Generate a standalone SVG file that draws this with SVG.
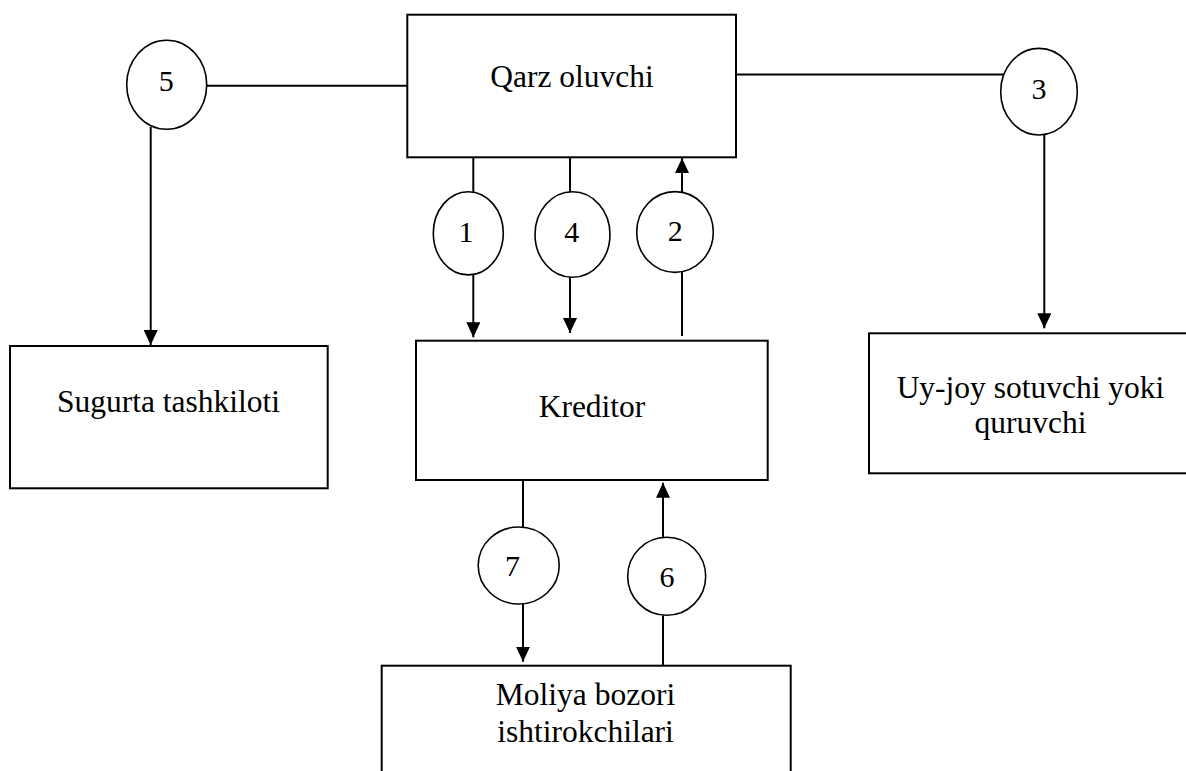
<svg xmlns="http://www.w3.org/2000/svg" width="1186" height="771" viewBox="0 0 1186 771">
<style>
  .box { fill: #ffffff; stroke: #000000; stroke-width: 2; }
  .circ { fill: #ffffff; stroke: #000000; stroke-width: 1.6; }
  .lbl { font-family: "Liberation Serif", "Times New Roman", serif; font-size: 31.5px; fill: #000000; text-anchor: middle; }
  .num { font-family: "Liberation Serif", "Times New Roman", serif; font-size: 30px; fill: #000000; text-anchor: middle; }
  .con { fill: none; stroke: #000000; stroke-width: 2; }
  .arr { marker-end: url(#ah); }
</style>
<defs>
  <marker id="ah" viewBox="0 0 15 14" refX="15" refY="7" markerWidth="15" markerHeight="14" markerUnits="userSpaceOnUse" orient="auto">
    <path d="M0,0 L15,7 L0,14 z" fill="#000000"/>
  </marker>
</defs>
<rect width="1186" height="771" fill="#ffffff"/>

<g id="connectors">
  <path class="con" d="M206.7,85.7 H407.3"/>
  <path class="con arr" d="M150.7,127 V345"/>
  <path class="con" d="M736,74.5 H1004"/>
  <path class="con arr" d="M1044.3,134.5 V328.3"/>
  <path class="con" d="M473.3,157.3 V192"/>
  <path class="con arr" d="M473.3,274.5 V337.3"/>
  <path class="con" d="M570,157.3 V192"/>
  <path class="con arr" d="M570,277 V333"/>
  <path class="con" d="M682,336 V272"/>
  <path class="con arr" d="M682,192 V158"/>
  <path class="con" d="M523,480 V527"/>
  <path class="con arr" d="M523,603.5 V661.7"/>
  <path class="con" d="M663,665.7 V615.5"/>
  <path class="con arr" d="M663,537.3 V482.7"/>
</g>

<g id="node-qarz">
  <rect class="box" x="407.3" y="14.7" width="328.7" height="142.6"/>
  <text class="lbl" x="572" y="87">Qarz oluvchi</text>
</g>
<g id="node-kreditor">
  <rect class="box" x="416" y="340.7" width="351.7" height="139.3"/>
  <text class="lbl" x="592" y="417.3">Kreditor</text>
</g>
<g id="node-sugurta">
  <rect class="box" x="10" y="346" width="317.7" height="142.3"/>
  <text class="lbl" x="168.5" y="412">Sugurta tashkiloti</text>
</g>
<g id="node-uyjoy">
  <rect class="box" x="869" y="333.3" width="340" height="140"/>
  <text class="lbl" x="1030.5" y="398.3">Uy-joy sotuvchi yoki</text>
  <text class="lbl" x="1030.5" y="433.3">quruvchi</text>
</g>
<g id="node-moliya">
  <rect class="box" x="381.7" y="665.7" width="409" height="130"/>
  <text class="lbl" x="585.5" y="705">Moliya bozori</text>
  <text class="lbl" x="585.5" y="741.7">ishtirokchilari</text>
</g>

<g id="node-c5">
  <ellipse class="circ" cx="166.7" cy="84.7" rx="40" ry="44.5"/>
  <text class="num" x="166.3" y="90.7">5</text>
</g>
<g id="node-c3">
  <ellipse class="circ" cx="1039" cy="91.7" rx="38.3" ry="43.3"/>
  <text class="num" x="1039" y="99.3">3</text>
</g>
<g id="node-c1">
  <ellipse class="circ" cx="468.3" cy="233.3" rx="35" ry="41.6"/>
  <text class="num" x="466" y="241.7">1</text>
</g>
<g id="node-c4">
  <ellipse class="circ" cx="572.5" cy="234.5" rx="37.5" ry="42.8"/>
  <text class="num" x="571.7" y="241.7">4</text>
</g>
<g id="node-c2">
  <ellipse class="circ" cx="675" cy="232" rx="38.3" ry="40.4"/>
  <text class="num" x="675.3" y="240.7">2</text>
</g>
<g id="node-c7">
  <ellipse class="circ" cx="518.7" cy="565.5" rx="40.5" ry="38.5"/>
  <text class="num" x="512.5" y="575.7">7</text>
</g>
<g id="node-c6">
  <ellipse class="circ" cx="666.7" cy="576.3" rx="39" ry="39"/>
  <text class="num" x="667" y="587.3">6</text>
</g>
</svg>
